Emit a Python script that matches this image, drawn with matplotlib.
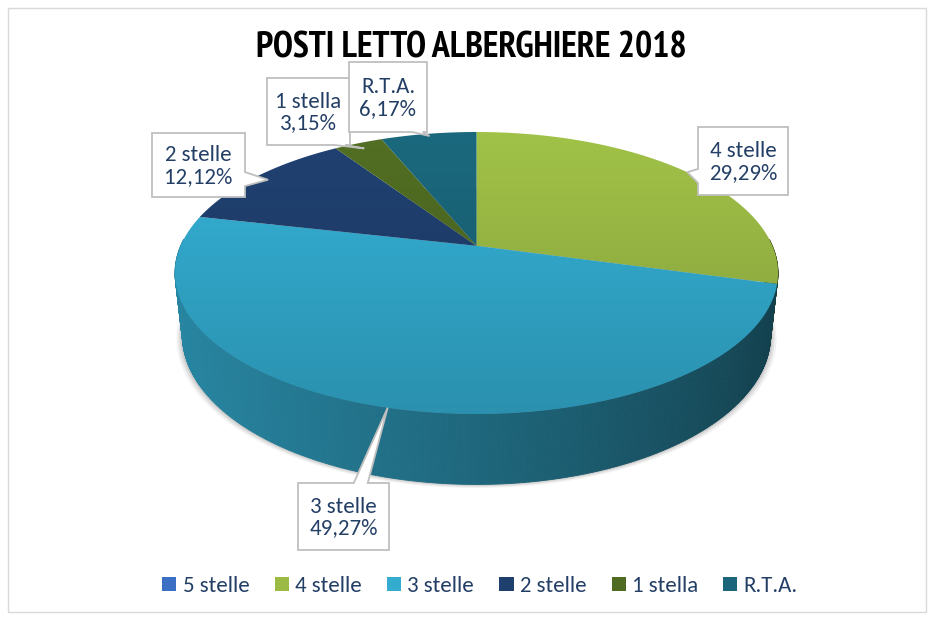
import numpy as np
import matplotlib
matplotlib.use("Agg")
import matplotlib.pyplot as plt
from matplotlib.patches import Polygon, Patch, Rectangle
from matplotlib.collections import PolyCollection
from matplotlib import font_manager

# ---------------- data ----------------
title = "POSTI LETTO ALBERGHIERE 2018"
categories = ["5 stelle", "4 stelle", "3 stelle", "2 stelle", "1 stella", "R.T.A."]
values = [0.0, 29.29, 49.27, 12.12, 3.15, 6.17]
value_labels = ["0,00%", "29,29%", "49,27%", "12,12%", "3,15%", "6,17%"]
colors = ["#3a6fc4", "#9bbb45", "#33acd0", "#1f3f6e", "#4f6b22", "#1a6579"]

# ---------------- fonts ----------------
weights = {}
for f in font_manager.fontManager.ttflist:
    w = f.weight if isinstance(f.weight, int) else (700 if "bold" in str(f.weight) else 400)
    if f.style == "normal":
        weights.setdefault(f.name, set()).add(w)


def pick(prefs, bold=False):
    for p in prefs:
        if p in weights and (not bold or any(700 <= w <= 800 for w in weights[p])):
            return p
    return "DejaVu Sans"

body_font = pick(["Carlito", "Calibri", "Lato", "Open Sans"])
title_font = pick(["Liberation Sans Narrow", "Arial Narrow", "PT Sans Narrow", "Archivo Narrow",
                   "Roboto Condensed", "Fira Sans Condensed", "Barlow Semi Condensed",
                   "IBM Plex Sans Condensed", "Encode Sans Condensed", "Asap Condensed",
                   "Open Sans Condensed", "Saira Semi Condensed", "Liberation Sans"], bold=True)
text_color = "#243f66"

W, H = 936, 620
fig = plt.figure(figsize=(W / 100, H / 100), dpi=100)
ax = fig.add_axes([0, 0, 1, 1])
ax.set_xlim(0, W)
ax.set_ylim(H, 0)
ax.axis("off")

# ---------------- perspective projection ----------------
alpha = np.radians(27.5)
Dcam = 4.6
ca, sa = np.cos(alpha), np.sin(alpha)
hgt = 0.24  # pie thickness (world units)


def proj(phi, Y=0.0):
    den = Dcam + np.sin(phi) * ca - Y * sa
    x = np.cos(phi) / den
    yup = (Y * ca + np.sin(phi) * sa) / den
    return x, yup

# fit top ellipse to target box
box_x0, box_x1, box_y0, box_y1 = 175.0, 778.0, 132.0, 414.0
pp = np.linspace(0, 2 * np.pi, 2000)
px, py = proj(pp)
sx = (box_x1 - box_x0) / (px.max() - px.min())
sy = (box_y1 - box_y0) / (py.max() - py.min())


def to_px(phi, Y=0.0):
    x, yup = proj(phi, Y)
    return box_x0 + (x - px.min()) * sx, box_y0 + (py.max() - yup) * sy

ctr_x = box_x0 + (0 - px.min()) * sx
ctr_y = box_y0 + (py.max() - 0) * sy

# slice angles (start at 12 o'clock, clockwise)
total = sum(values)
fracs = [v / total for v in values]
starts, ends = [], []
a = np.pi / 2
for f in fracs:
    starts.append(a)
    a -= f * 2 * np.pi
    ends.append(a)


def shade(c, k):
    r, g, b = matplotlib.colors.to_rgb(c)
    return (min(r * k, 1), min(g * k, 1), min(b * k, 1))

# ---------------- soft shadow ----------------
php = np.linspace(0, 2 * np.pi, 400)
for grow, alph in [(6, 0.05), (4, 0.07), (2, 0.09)]:
    xs, ys = to_px(php, -hgt)
    xs = ctr_x + (xs - ctr_x) * (1 + grow / 300)
    ys = ys + grow * 0.6
    ax.add_patch(Polygon(list(zip(xs, ys)), closed=True, facecolor="black",
                         edgecolor="none", alpha=alph, zorder=0.5))

# ---------------- side walls ----------------
strips, scols, sdepth = [], [], []
for i, v in enumerate(values):
    if v <= 0:
        continue
    s, e = starts[i], ends[i]
    n = max(int(abs(s - e) / (2 * np.pi) * 720), 2)
    ph = np.linspace(s, e, n + 1)
    for j in range(n):
        p1, p2 = ph[j], ph[j + 1]
        pm = 0.5 * (p1 + p2)
        if np.sin(pm) > 0.05:
            continue
        xa, ya = to_px(p1)
        xb, yb = to_px(p2)
        xc, yc = to_px(p2, -hgt)
        xd, yd = to_px(p1, -hgt)
        strips.append([(xa, ya), (xb, yb), (xc, yc), (xd, yd)])
        t = (np.cos(pm) + 1) / 2
        k = 0.78 - 0.42 * t ** 1.2
        scols.append(shade(colors[i], k))
        sdepth.append(np.sin(pm))
order = np.argsort(sdepth)[::-1]
pc = PolyCollection([strips[o] for o in order], facecolors=[scols[o] for o in order],
                    edgecolors=[scols[o] for o in order], linewidths=0.6, zorder=1)
ax.add_collection(pc)

# ---------------- top surface with gradient ----------------
gy = np.linspace(0, 1, 256)[:, None]
for i, v in enumerate(values):
    if v <= 0:
        continue
    ph = np.linspace(starts[i], ends[i], 300)
    xs, ys = to_px(ph)
    verts = [(ctr_x, ctr_y)] + list(zip(xs, ys))
    poly = Polygon(verts, closed=True, facecolor="none", edgecolor="none",
                   transform=ax.transData)
    ax.add_patch(poly)
    base = np.array(matplotlib.colors.to_rgb(colors[i]))
    k = 1.04 - 0.20 * gy
    img = np.clip(base[None, None, :] * k[:, :, None], 0, 1)
    img = np.repeat(img, 2, axis=1)
    im = ax.imshow(img, extent=(box_x0 - 2, box_x1 + 2, box_y1 + 2, box_y0 - 2),
                   aspect="auto", interpolation="bilinear", zorder=3)
    im.set_clip_path(poly)
ax.set_xlim(0, W)
ax.set_ylim(H, 0)

# ---------------- callouts ----------------
# box (x0, y0, x1, y1), pointer edge, base position along edge, tip radius factor
callouts = {
    1: ((698, 127, 788, 195), "left", 0.72, 1.0),
    2: ((298, 483, 389, 550), "top", 0.69, 1.0),
    3: ((152, 133, 245, 197), "right", 0.72, 0.95),
    4: ((267, 78, 350, 145), "bottom", 0.9, 0.95),
    5: ((349, 62, 427, 132), "bottom", 0.9, 0.98),
}
for i, (bx, edge, pos, rf) in callouts.items():
    x0, y0, x1, y1 = bx
    mid = 0.5 * (starts[i] + ends[i])
    tx, ty = to_px(mid)
    tx = ctr_x + (tx - ctr_x) * rf
    ty = ctr_y + (ty - ctr_y) * rf
    hw = 7
    if edge == "top":
        b = x0 + pos * (x1 - x0)
        pts = [(x0, y0), (b - hw, y0), (tx, ty), (b + hw, y0), (x1, y0), (x1, y1), (x0, y1)]
    elif edge == "right":
        b = y0 + pos * (y1 - y0)
        pts = [(x0, y0), (x1, y0), (x1, b - hw), (tx, ty), (x1, b + hw), (x1, y1), (x0, y1)]
    elif edge == "bottom":
        b = x0 + pos * (x1 - x0)
        pts = [(x0, y0), (x1, y0), (x1, y1), (b + hw * 0.5, y1), (tx, ty), (b - hw, y1), (x0, y1)]
    else:
        b = y0 + pos * (y1 - y0)
        pts = [(x0, y0), (x1, y0), (x1, y1), (x0, y1), (x0, b + hw), (tx, ty), (x0, b - hw)]
    ax.add_patch(Polygon(pts, closed=True, facecolor="white", edgecolor="#bfbfbf",
                         linewidth=1.3, zorder=6))
    xm = 0.5 * (x0 + x1)
    ym = 0.5 * (y0 + y1) + 1
    ax.text(xm, ym, categories[i] + "\n" + value_labels[i], ha="center", va="center",
            fontsize=16.5, color=text_color, family=body_font, linespacing=1.12, zorder=7)

# ---------------- title (fit to target width, capped by height) ----------------
ttl = fig.text(471 / W, 1 - 48 / H, title, ha="center", va="center", fontsize=22,
               fontweight="bold", family=title_font, color="black")
renderer = fig.canvas.get_renderer()
tw = ttl.get_window_extent(renderer).width
fs = 22 * 432 / tw
if title_font == "Liberation Sans":
    fs = 20.5
ttl.set_fontsize(min(26.5, max(16, fs)))

# ---------------- legend ----------------
handles = [Patch(facecolor=c, edgecolor="none") for c in colors]
leg = fig.legend(handles, categories, ncol=6, loc="center",
                 bbox_to_anchor=(480 / W, 1 - 586 / H), frameon=False,
                 handlelength=0.62, handleheight=0.62, handletextpad=0.27,
                 columnspacing=1.1, prop={"family": body_font, "size": 16.5})
for t in leg.get_texts():
    t.set_color(text_color)

# ---------------- frame ----------------
ax.add_patch(Rectangle((8, 8), 918, 604, fill=False, edgecolor="#d9d9d9", linewidth=1, zorder=0.1))

fig.savefig("out.png", dpi=100)
